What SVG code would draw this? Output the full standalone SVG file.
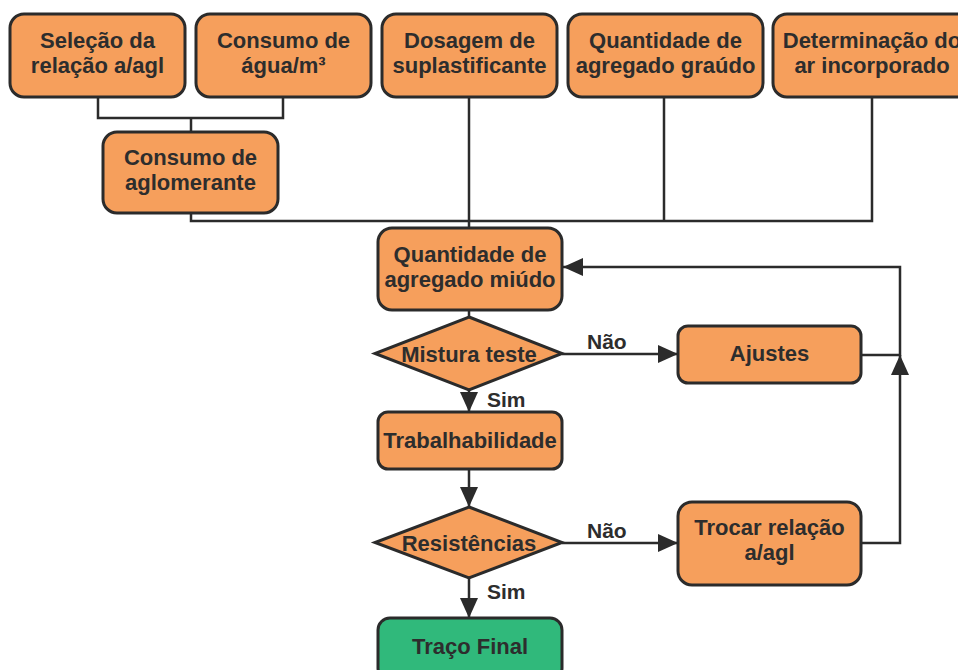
<svg xmlns="http://www.w3.org/2000/svg" width="958" height="670" viewBox="0 0 958 670">
<defs>
<style>
.box{fill:#F69F5C;stroke:#2b2b2b;stroke-width:3}
.fin{fill:#30B97B;stroke:#2b2b2b;stroke-width:3}
.t{font-family:"Liberation Sans",Arial,sans-serif;font-weight:bold;font-size:22px;fill:#2d2d2d;text-anchor:middle}
.l{font-family:"Liberation Sans",Arial,sans-serif;font-weight:bold;font-size:21px;fill:#2d2d2d}
.c{fill:none;stroke:#2b2b2b;stroke-width:2.5}
</style>
<marker id="ah" markerUnits="userSpaceOnUse" markerWidth="20" markerHeight="18" refX="20" refY="9" orient="auto">
<path d="M0,0 L20,9 L0,18 z" fill="#2b2b2b"/>
</marker>
</defs>
<rect width="958" height="670" fill="#ffffff"/>
<g id="connectors">
<path class="c" d="M98 97 V118 H283 V97"/>
<path class="c" d="M191 118 V132"/>
<path class="c" d="M191 213 V221 H872 V97"/>
<path class="c" d="M469 97 V228"/>
<path class="c" d="M664 97 V221"/>
<path class="c" d="M469 310 V317"/>
<path class="c" d="M562 354 H678" marker-end="url(#ah)"/>
<path class="c" d="M469 390 V412" marker-end="url(#ah)"/>
<path class="c" d="M469 469 V507" marker-end="url(#ah)"/>
<path class="c" d="M562 543 H678" marker-end="url(#ah)"/>
<path class="c" d="M469 578 V618" marker-end="url(#ah)"/>
<path class="c" d="M861 543 H900 V355" marker-end="url(#ah)"/>
<path class="c" d="M861 355 H900 V267 H563" marker-end="url(#ah)"/>
<text class="l" x="587" y="349">Não</text>
<text class="l" x="487" y="407">Sim</text>
<text class="l" x="587" y="538">Não</text>
<text class="l" x="487" y="599">Sim</text>
</g>
<g id="n1"><rect class="box" x="10" y="14" width="175" height="83" rx="14"/><text class="t" x="97.5" y="48">Seleção da</text><text class="t" x="97.5" y="73">relação a/agl</text></g>
<g id="n2"><rect class="box" x="196" y="14" width="175" height="83" rx="14"/><text class="t" x="283.5" y="48">Consumo de</text><text class="t" x="283.5" y="73">água/m³</text></g>
<g id="n3"><rect class="box" x="382" y="14" width="175" height="83" rx="14"/><text class="t" x="469.5" y="48">Dosagem de</text><text class="t" x="469.5" y="73">suplastificante</text></g>
<g id="n4"><rect class="box" x="568" y="14" width="195" height="83" rx="14"/><text class="t" x="665.5" y="48">Quantidade de</text><text class="t" x="665.5" y="73">agregado graúdo</text></g>
<g id="n5"><rect class="box" x="773" y="14" width="198" height="83" rx="14"/><text class="t" x="872" y="48">Determinação do</text><text class="t" x="872" y="73">ar incorporado</text></g>
<g id="n6"><rect class="box" x="103" y="132" width="175" height="81" rx="14"/><text class="t" x="190.5" y="165">Consumo de</text><text class="t" x="190.5" y="190">aglomerante</text></g>
<g id="n7"><rect class="box" x="378" y="228" width="184" height="82" rx="14"/><text class="t" x="470" y="262">Quantidade de</text><text class="t" x="470" y="287">agregado miúdo</text></g>
<g id="n8"><polygon class="box" points="469,317 562,353.5 469,390 375,353.5"/><text class="t" x="469" y="362">Mistura teste</text></g>
<g id="n9"><rect class="box" x="678" y="326" width="183" height="57" rx="10"/><text class="t" x="769.5" y="361">Ajustes</text></g>
<g id="n10"><rect class="box" x="378" y="412" width="184" height="57" rx="10"/><text class="t" x="470" y="448">Trabalhabilidade</text></g>
<g id="n11"><polygon class="box" points="469,507 562,542.5 469,578 375,542.5"/><text class="t" x="469" y="551">Resistências</text></g>
<g id="n12"><rect class="box" x="678" y="502" width="183" height="83" rx="14"/><text class="t" x="769.5" y="535">Trocar relação</text><text class="t" x="769.5" y="560">a/agl</text></g>
<g id="n13"><rect class="fin" x="378" y="618" width="184" height="62" rx="12"/><text class="t" x="470" y="654">Traço Final</text></g>
</svg>
